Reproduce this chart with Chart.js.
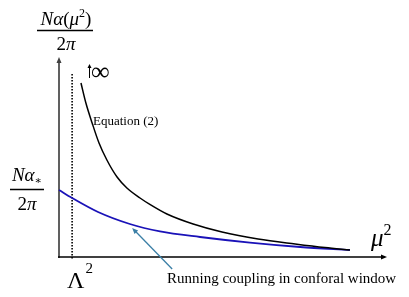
<!DOCTYPE html>
<html><head><meta charset="utf-8">
<script src="https://cdn.jsdelivr.net/npm/chart.js@4/dist/chart.umd.min.js"></script>
<style>html,body{margin:0;padding:0;background:#fff}canvas{display:block}</style>
</head><body>
<canvas id="c" width="409" height="297"></canvas>
<script>
// Equation (2) curve (black)
const eqX = [0.67, 0.82, 1.01, 1.22, 1.46, 1.77, 2.07, 2.47, 2.77, 3.29, 4.09, 4.97, 6.07, 7.2, 8.11, 8.87];
const eqY = [8.7, 7.7, 6.7, 5.7, 4.85, 4.0, 3.45, 2.95, 2.63, 2.15, 1.65, 1.25, 0.9, 0.65, 0.47, 0.35];
// Running coupling in conformal window (blue)
const runX = [0, 0.4, 1.19, 2.16, 3.08, 4.3, 5.82, 7.35, 8.87];
const runY = [3.35, 2.95, 2.25, 1.65, 1.28, 1.0, 0.72, 0.5, 0.35];
// Lambda^2 marker position
const lambdaX = [0.4, 0.4];
const lambdaY = [9.15, -0.15];
// annotation arrow (tail, head)
const noteX = [3.45, 2.23];
const noteY = [-0.6, 1.45];

const pts = (xs, ys) => xs.map((x, i) => ({x, y: ys[i]}));
const SERIF = '"Liberation Serif", "DejaVu Serif", serif';

function runs(ctx, x, y, parts, align) {
  let w = 0;
  parts.forEach(p => { ctx.font = p[1]; w += ctx.measureText(p[0]).width; });
  let cx = align === 'center' ? x - w / 2 : x;
  ctx.textBaseline = 'alphabetic';
  ctx.textAlign = 'left';
  parts.forEach(p => { ctx.font = p[1]; ctx.fillText(p[0], cx + (p[3] || 0), y + (p[2] || 0)); cx += ctx.measureText(p[0]).width + (p[3] || 0); });
}
function arrowHead(ctx, x1, y1, x2, y2, len, wid) {
  const a = Math.atan2(y2 - y1, x2 - x1);
  ctx.beginPath();
  ctx.moveTo(x2, y2);
  ctx.lineTo(x2 - len * Math.cos(a) + wid * Math.sin(a), y2 - len * Math.sin(a) - wid * Math.cos(a));
  ctx.lineTo(x2 - len * Math.cos(a) - wid * Math.sin(a), y2 - len * Math.sin(a) + wid * Math.cos(a));
  ctx.closePath();
  ctx.fill();
}

const decor = {
  id: 'decor',
  beforeDatasetsDraw(chart) {
    const ctx = chart.ctx, xs = chart.scales.x, ys = chart.scales.y;
    const x0 = xs.getPixelForValue(0), y0 = ys.getPixelForValue(0);
    const xr = xs.getPixelForValue(10), yt = ys.getPixelForValue(10);
    ctx.save();
    ctx.strokeStyle = '#606060'; ctx.fillStyle = '#404040'; ctx.lineWidth = 2;
    ctx.beginPath(); ctx.moveTo(x0, y0 + 1); ctx.lineTo(x0, yt + 4); ctx.stroke();
    arrowHead(ctx, x0, y0, x0, yt, 6, 2.5);
    ctx.strokeStyle = '#000'; ctx.fillStyle = '#000'; ctx.lineWidth = 1.5;
    ctx.beginPath(); ctx.moveTo(x0 - 1, y0); ctx.lineTo(xr - 4, y0); ctx.stroke();
    arrowHead(ctx, x0, y0, xr, y0, 6, 2.5);
    ctx.restore();
  },
  afterDatasetsDraw(chart) {
    const ctx = chart.ctx, xs = chart.scales.x, ys = chart.scales.y;
    ctx.save();
    ctx.fillStyle = '#000'; ctx.strokeStyle = '#000';
    const it = s => 'italic ' + s + 'px ' + SERIF, up = s => s + 'px ' + SERIF;
    // top y-axis label fraction
    runs(ctx, 66, 25, [['N', it(19)], ['α', it(19)], ['(', up(19)], ['μ', it(19)], ['2', up(12), -8], [')', up(19)]], 'center');
    ctx.lineWidth = 1.5;
    ctx.beginPath(); ctx.moveTo(37, 30.5); ctx.lineTo(93, 30.5); ctx.stroke();
    runs(ctx, 66, 50, [['2', up(19)], ['π', it(19)]], 'center');
    // left fixed-point label
    runs(ctx, 27, 181, [['N', it(19)], ['α', it(19)], ['∗', up(11), 3]], 'center');
    ctx.beginPath(); ctx.moveTo(10, 189.5); ctx.lineTo(44, 189.5); ctx.stroke();
    runs(ctx, 27, 210, [['2', up(19)], ['π', it(19)]], 'center');
    // Lambda^2
    const lx = xs.getPixelForValue(lambdaX[0]);
    runs(ctx, lx - 5, 288, [['Λ', up(24)], ['2', up(15), -15, 1]]);
    // mu^2
    runs(ctx, 371, 246, [['μ', it(25)], ['2', up(16), -11]]);
    // infinity with small up arrow
    ctx.lineWidth = 1;
    ctx.beginPath(); ctx.moveTo(89.5, 78); ctx.lineTo(89.5, 67); ctx.stroke();
    arrowHead(ctx, 89.5, 78, 89.5, 64, 4, 2);
    runs(ctx, 91, 80, [['∞', up(26)]]);
    // Equation (2)
    runs(ctx, 93, 125, [['Equation (2)', up(13)]]);
    // annotation
    runs(ctx, 167, 283, [['Running coupling in conforal window', up(15)]]);
    const ax1 = xs.getPixelForValue(noteX[0]), ay1 = ys.getPixelForValue(noteY[0]);
    const ax2 = xs.getPixelForValue(noteX[1]), ay2 = ys.getPixelForValue(noteY[1]);
    ctx.strokeStyle = '#3b7fa6'; ctx.fillStyle = '#3b7fa6'; ctx.lineWidth = 1.3;
    ctx.beginPath(); ctx.moveTo(ax1, ay1); ctx.lineTo(ax2 + 3, ay2 + 3); ctx.stroke();
    arrowHead(ctx, ax1, ay1, ax2, ay2, 6, 2.5);
    ctx.restore();
  }
};

new Chart(document.getElementById('c'), {
  type: 'scatter',
  data: {
    datasets: [
      {data: pts(eqX, eqY), showLine: true, borderColor: '#000', borderWidth: 1.5, pointRadius: 0, cubicInterpolationMode: 'monotone', fill: false},
      {data: pts(runX, runY), showLine: true, borderColor: '#1a12b8', borderWidth: 1.8, pointRadius: 0, cubicInterpolationMode: 'monotone', fill: false},
      {data: pts(lambdaX, lambdaY), showLine: true, borderColor: '#000', borderWidth: 1.6, borderDash: [1.5, 1.5], pointRadius: 0}
    ]
  },
  options: {
    responsive: false, devicePixelRatio: 1, animation: false,
    layout: {padding: {left: 59, right: 22, top: 57, bottom: 40}},
    clip: false,
    plugins: {legend: {display: false}, tooltip: {enabled: false}},
    scales: {
      x: {type: 'linear', min: 0, max: 10, display: false},
      y: {type: 'linear', min: 0, max: 10, display: false}
    }
  },
  plugins: [decor]
});
</script>
</body></html>
